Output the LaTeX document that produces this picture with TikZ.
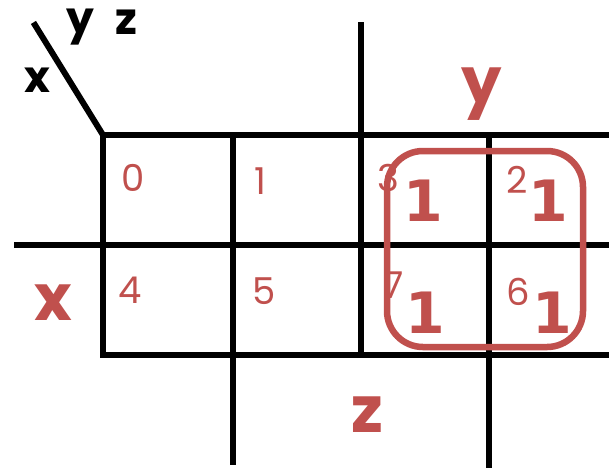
\documentclass[tikz,border=0pt]{standalone}
\usepackage{fontspec}
\setmainfont{Poppins}
\newfontfamily\onefont{DejaVu Sans}
\definecolor{kred}{HTML}{C0504D}
\begin{document}
\begin{tikzpicture}[x=1pt,y=-1pt,
  grid/.style={line width=6pt,line cap=rect},
  cellnum/.style={text=kred,inner sep=0pt,font=\fontsize{37}{37}\selectfont},
  one/.style={text=kred,inner sep=0pt,font=\onefont\bfseries\fontsize{57}{57}\selectfont},
  varred/.style={text=kred,inner sep=0pt,font=\bfseries\fontsize{64}{64}\selectfont},
  varblk/.style={text=black,inner sep=0pt,font=\bfseries\fontsize{44}{44}\selectfont}]
\useasboundingbox (0,0) rectangle (609,467);
% grid lines
\coordinate (corner) at (103,135);
\coordinate (diag) at (35,25);
\draw[grid] (diag) -- (corner);
\draw[grid] (corner) -- (609,135);
\draw[grid] (17,245) -- (609,245);
\draw[grid] (103,355) -- (609,355);
\draw[grid] (corner) -- (103,355);
\draw[grid] (233,135) -- (233,462);
\draw[grid] (361,25) -- (361,355);
\draw[grid] (489,135) -- (489,467);
% black variable labels
\node[varblk] (by) at (80,27) {y};
\node[varblk] (bz) at (126,22) {z};
\node[varblk] (bx) at (37,80) {x};
% red variable labels
\node[varred] (ry) at (482,94) {y};
\node[varred] (rx) at (53,303) {x};
\node[varred] (rz) at (367,415) {z};
% cell numbers
\node[cellnum] (c0) at (133,178) {0};
\node[cellnum] (c1) at (260,181) {1};
\node[cellnum] (c3) at (388,178) {3};
\node[cellnum] (c2) at (517,180) {2};
\node[cellnum] (c4) at (130,290) {4};
\node[cellnum] (c5) at (264,291) {5};
\node[cellnum] (c7) at (394,285) {7};
\node[cellnum] (c6) at (518,292) {6};
% ones
\node[one] (o3) at (423,201) {1};
\node[one] (o2) at (548,201) {1};
\node[one] (o7) at (425,313) {1};
\node[one] (o6) at (552,313) {1};
% grouping
\draw[kred,line width=6.5pt,rounded corners=36pt] (387,151) rectangle (583,347);
\end{tikzpicture}
\end{document}
